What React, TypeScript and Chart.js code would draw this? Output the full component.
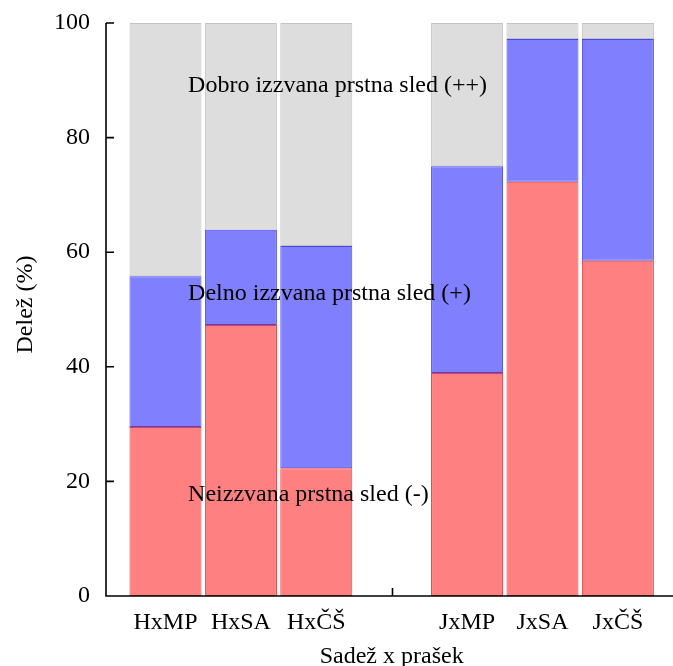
import React, { useEffect, useRef } from "react";
import { Chart, registerables } from "chart.js";

Chart.register(...registerables);

const categories = ["HxMP", "HxSA", "HxČŠ", "JxMP", "JxSA", "JxČŠ"];
const slots = [1, 2, 3, 5, 6, 7];
const gapSlot = 4;
const neizzvana = [29.5, 47.3, 22.3, 38.9, 72.3, 58.5];
const delno = [26.3, 16.6, 38.8, 36.1, 24.9, 38.7];
const dobro = [44.2, 36.1, 38.9, 25.0, 2.8, 2.8];
const yTicks = [0, 20, 40, 60, 80, 100];
const seriesLabels = [
  "Neizzvana prstna sled (-)",
  "Delno izzvana prstna sled (+)",
  "Dobro izzvana prstna sled (++)",
];
const labelY = [16.6, 51.7, 88.0];
const labelX = 1.3;
const xTitle = "Sadež x prašek";
const yTitle = "Delež (%)";

const FONT = '"Liberation Serif", "Times New Roman", serif';
const FS = 24;

export default function App() {
  const ref = useRef<HTMLCanvasElement | null>(null);
  useEffect(() => {
    const canvas = ref.current;
    if (!canvas) return;
    const pts = (arr: number[]) => arr.map((v, i) => ({ x: slots[i], y: v }));
    const decor = {
      id: "decor",
      beforeDatasetsDraw(chart: any) {
        const ctx = chart.ctx;
        const xs = chart.scales.x;
        const ca = chart.chartArea;
        ctx.save();
        ctx.strokeStyle = "#000";
        ctx.lineWidth = 1.6;
        ctx.beginPath();
        [...slots, gapSlot].forEach((s) => {
          const px = Math.round(xs.getPixelForValue(s)) + 0.5;
          ctx.moveTo(px, ca.bottom);
          ctx.lineTo(px, ca.bottom - 8);
        });
        ctx.stroke();
        ctx.restore();
      },
      afterDatasetsDraw(chart: any) {
        const ctx = chart.ctx;
        const xs = chart.scales.x;
        const ys = chart.scales.y;
        const ca = chart.chartArea;
        ctx.save();
        ctx.strokeStyle = "#000";
        ctx.lineWidth = 1.6;
        ctx.beginPath();
        ctx.moveTo(ca.left, ca.top);
        ctx.lineTo(ca.left, ca.bottom);
        ctx.lineTo(ca.right, ca.bottom);
        yTicks.forEach((t) => {
          const py = ys.getPixelForValue(t);
          ctx.moveTo(ca.left, py);
          ctx.lineTo(ca.left + 8, py);
        });
        ctx.stroke();
        ctx.fillStyle = "#000";
        ctx.font = `${FS}px ${FONT}`;
        ctx.textAlign = "left";
        ctx.textBaseline = "alphabetic";
        seriesLabels.forEach((t, i) => {
          ctx.fillText(t, xs.getPixelForValue(labelX), ys.getPixelForValue(labelY[i]));
        });
        ctx.textAlign = "center";
        ctx.fillText(xTitle, xs.getPixelForValue(gapSlot), ca.bottom + 67);
        ctx.translate(32, (ca.top + ca.bottom) / 2 - 5);
        ctx.rotate(-Math.PI / 2);
        ctx.fillText(yTitle, 0, 0);
        ctx.restore();
      },
    };
    const chart = new Chart(canvas, {
      type: "bar",
      data: {
        datasets: [
          {
            label: seriesLabels[0],
            data: pts(neizzvana),
            backgroundColor: "rgb(255,128,128)",
            borderColor: "rgb(235,60,60)",
            borderWidth: 1,
            borderSkipped: false,
          },
          {
            label: seriesLabels[1],
            data: pts(delno),
            backgroundColor: "rgb(128,128,255)",
            borderColor: "rgb(70,70,235)",
            borderWidth: 1,
            borderSkipped: false,
          },
          {
            label: seriesLabels[2],
            data: pts(dobro),
            backgroundColor: "rgb(221,221,221)",
            borderColor: "rgb(195,195,195)",
            borderWidth: 1,
            borderSkipped: false,
          },
        ],
      },
      options: {
        animation: false,
        responsive: false,
        maintainAspectRatio: false,
        layout: { padding: { top: 23, right: 0, left: 0, bottom: 0 } },
        plugins: { legend: { display: false }, tooltip: { enabled: false } },
        datasets: { bar: { barPercentage: 0.955, categoryPercentage: 1 } },
        scales: {
          x: {
            type: "linear",
            stacked: true,
            offset: false,
            min: 0.211,
            max: 7.731,
            grid: { display: false, drawTicks: false, offset: false },
            border: { display: false },
            afterBuildTicks: (s: any) => {
              s.ticks = slots.map((v) => ({ value: v }));
            },
            afterFit: (s: any) => {
              s.height = 70;
              s.paddingLeft = 0;
              s.paddingRight = 0;
              s.paddingTop = 0;
              s.paddingBottom = 0;
            },
            ticks: {
              padding: 12,
              color: "#000",
              font: { family: FONT, size: FS },
              maxRotation: 0,
              autoSkip: false,
              callback: (v: any) => {
                const i = slots.indexOf(Number(v));
                return i >= 0 ? categories[i] : "";
              },
            },
          },
          y: {
            stacked: true,
            min: 0,
            max: 100,
            grid: { display: false, drawTicks: false },
            border: { display: false },
            afterBuildTicks: (s: any) => {
              s.ticks = yTicks.map((v) => ({ value: v }));
            },
            afterFit: (s: any) => {
              s.width = 106;
              s.paddingTop = 0;
              s.paddingBottom = 0;
              s.paddingLeft = 0;
              s.paddingRight = 0;
            },
            ticks: {
              padding: 16,
              color: "#000",
              font: { family: FONT, size: FS },
            },
          },
        },
      },
      plugins: [decor],
    } as any);
    return () => chart.destroy();
  }, []);
  return (
    <div style={{ position: "absolute", left: 0, top: 0, width: 673, height: 666, background: "#fff" }}>
      <canvas ref={ref} width={673} height={666} style={{ width: 673, height: 666, display: "block" }} />
    </div>
  );
}
